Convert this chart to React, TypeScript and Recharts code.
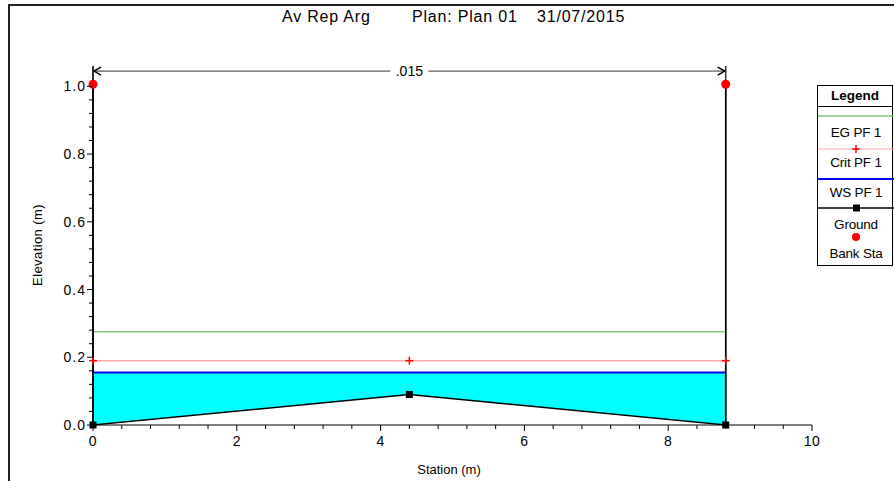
import React from 'react';
import { ComposedChart, Line, Area, Scatter, XAxis, YAxis, ReferenceLine, Legend } from 'recharts';

// ---- data ----
const stations = [0, 4.4, 8.8];
const groundAtStations = [0, 0.09, 0];
const groundX = [0, 0, 4.4, 8.8, 8.8];
const groundY = [1.0, 0, 0.09, 0, 1.0];
const wsElev = 0.155;
const critElev = 0.19;
const egElev = 0.275;
const bankStaX = [0, 8.8];
const bankStaY = [1.006, 1.006];
const manningN = '.015';
const nRange = [0, 8.8];
const nArrowElev = 1.045;

const xTicks = [0, 0.4, 0.8, 1.2, 1.6, 2, 2.4, 2.8, 3.2, 3.6, 4, 4.4, 4.8, 5.2, 5.6, 6, 6.4, 6.8, 7.2, 7.6, 8, 8.4, 8.8, 9.2, 9.6, 10];
const xMajor = [0, 2, 4, 6, 8, 10];
const xTickLabels = ['0', '2', '4', '6', '8', '10'];
const yTicks = [0, 0.04, 0.08, 0.12, 0.16, 0.2, 0.24, 0.28, 0.32, 0.36, 0.4, 0.44, 0.48, 0.52, 0.56, 0.6, 0.64, 0.68, 0.72, 0.76, 0.8, 0.84, 0.88, 0.92, 0.96, 1.0];
const yMajor = [0, 0.2, 0.4, 0.6, 0.8, 1.0];
const yTickLabels = ['0.0', '0.2', '0.4', '0.6', '0.8', '1.0'];

const titleParts = ['Av Rep Arg', 'Plan: Plan 01', '31/07/2015'];
const legendLabels = ['EG PF 1', 'Crit PF 1', 'WS PF 1', 'Ground', 'Bank Sta'];

// ---- derived tables ----
const waterData = stations.map((x, i) => ({ x, range: [groundAtStations[i], wsElev] }));
const wsData = stations.map((x) => ({ x, y: wsElev }));
const critData = stations.map((x) => ({ x, y: critElev }));
const egData = [{ x: stations[0], y: egElev }, { x: stations[stations.length - 1], y: egElev }];
const groundData = groundX.map((x, i) => ({ x, y: groundY[i] }));
const bankData = bankStaX.map((x, i) => ({ x, y: bankStaY[i] }));

const FONT = '"Liberation Sans", Arial, sans-serif';
const near = (a: number, b: number) => Math.abs(a - b) < 1e-6;

const EG_COLOR = '#80c880';
const CRIT_COLOR = '#ffa8a8';
const WS_COLOR = '#0000e0';

const XTick = (props: any) => {
  const { x, y, payload } = props;
  const idx = xMajor.findIndex((m) => near(m, payload.value));
  const major = idx >= 0;
  return (
    <g>
      <line x1={x} x2={x} y1={y} y2={y + (major ? 6 : 4)} stroke="#000" strokeWidth={1} />
      {major && (
        <text x={x} y={y + 21} textAnchor="middle" fontSize={14} letterSpacing={0.5} fontFamily={FONT} fill="#000">
          {xTickLabels[idx]}
        </text>
      )}
    </g>
  );
};

const YTick = (props: any) => {
  const { x, y, payload } = props;
  const idx = yMajor.findIndex((m) => near(m, payload.value));
  const major = idx >= 0;
  return (
    <g>
      <line x1={x - (major ? 6 : 4)} x2={x} y1={y} y2={y} stroke="#000" strokeWidth={1} />
      {major && (
        <text x={x - 7} y={y + 5} textAnchor="end" fontSize={14} letterSpacing={1} fontFamily={FONT} fill="#000">
          {yTickLabels[idx]}
        </text>
      )}
    </g>
  );
};

const PlusDot = (props: any) => {
  const { cx, cy, index } = props;
  if (cx == null || cy == null) return <g key={index} />;
  return (
    <g key={index}>
      <line x1={cx - 4} x2={cx + 4} y1={cy} y2={cy} stroke="#ff0000" strokeWidth={1.5} />
      <line x1={cx} x2={cx} y1={cy - 4} y2={cy + 4} stroke="#ff0000" strokeWidth={1.5} />
    </g>
  );
};

const SquareDot = (props: any) => {
  const { cx, cy, index, payload } = props;
  if (cx == null || cy == null || (payload && payload.y > 0.5)) return <g key={index} />;
  return <rect key={index} x={cx - 3.5} y={cy - 3.5} width={7} height={7} fill="#000" />;
};

const RedCircle = (props: any) => {
  const { cx, cy } = props;
  return <circle cx={cx} cy={cy} r={4.5} fill="#ff0000" />;
};

const NArrow = (props: any) => {
  const { x1, y1, x2 } = props;
  const xl = Math.min(x1, x2);
  const xr = Math.max(x1, x2);
  const mid = (xl + xr) / 2;
  const gap = 19;
  const y = y1;
  return (
    <g>
      <line x1={xl} x2={mid - gap} y1={y} y2={y} stroke="#333" strokeWidth={1} />
      <line x1={mid + gap} x2={xr} y1={y} y2={y} stroke="#333" strokeWidth={1} />
      <polyline points={`${xl + 8},${y - 4} ${xl + 1},${y} ${xl + 8},${y + 4}`} fill="none" stroke="#000" strokeWidth={1.5} />
      <polyline points={`${xr - 8},${y - 4} ${xr - 1},${y} ${xr - 8},${y + 4}`} fill="none" stroke="#000" strokeWidth={1.5} />
      <text x={mid} y={y + 5} textAnchor="middle" fontSize={14} fontFamily={FONT} fill="#000">{manningN}</text>
    </g>
  );
};

const LegendBox = () => {
  const txt = (label: string, cy: number) => (
    <div style={{ position: 'absolute', left: 0, width: 76, top: cy - 8, height: 16, lineHeight: '16px', fontSize: 13.5, fontFamily: FONT, color: '#000', textAlign: 'center', letterSpacing: '-0.2px', whiteSpace: 'pre' }}>
      {label}
    </div>
  );
  const sym = (cy: number, color: string, marker?: 'plus' | 'square' | 'circle', w = 1.2) => (
    <svg width={76} height={10} style={{ position: 'absolute', left: 0, top: cy - 5 }}>
      {marker !== 'circle' && <line x1={0} x2={76} y1={5} y2={5} stroke={color} strokeWidth={w} />}
      {marker === 'plus' && (
        <g>
          <line x1={34} x2={42} y1={5} y2={5} stroke="#ff0000" strokeWidth={1.5} />
          <line x1={38} x2={38} y1={1} y2={9} stroke="#ff0000" strokeWidth={1.5} />
        </g>
      )}
      {marker === 'square' && <rect x={35} y={1.5} width={7} height={7} fill="#000" />}
      {marker === 'circle' && <circle cx={38} cy={5} r={4} fill="#ff0000" />}
    </svg>
  );
  return (
    <div style={{ position: 'relative', width: 76, height: 181, border: '1px solid #000', background: '#fff', boxSizing: 'border-box' }}>
      <div style={{ position: 'absolute', left: 0, top: 0, width: 74, height: 20, lineHeight: '20px', textAlign: 'center', fontWeight: 'bold', fontSize: 13.5, fontFamily: FONT, color: '#000', borderBottom: '1px solid #000' }}>
        Legend
      </div>
      {sym(30, EG_COLOR, undefined, 1.5)}
      {txt(legendLabels[0], 47)}
      {sym(63, CRIT_COLOR, 'plus', 1.2)}
      {txt(legendLabels[1], 77)}
      {sym(93, '#0000ff', undefined, 2)}
      {txt(legendLabels[2], 107)}
      {sym(122, '#000000', 'square', 1.5)}
      {txt(legendLabels[3], 139)}
      {sym(151, '#ff0000', 'circle')}
      {txt(legendLabels[4], 168)}
    </div>
  );
};

export default function App() {
  const titleStyle = { position: 'absolute' as const, top: 8, fontSize: 16, letterSpacing: '0.8px', whiteSpace: 'pre' as const, color: '#000', lineHeight: '18px' };
  return (
    <div style={{ position: 'absolute', left: 0, top: 0, width: 894, height: 481, overflow: 'hidden', background: '#fff', fontFamily: FONT }}>
      <div style={{ position: 'absolute', left: 8, top: 4, width: 890, height: 480, borderTop: '2px solid #222', borderLeft: '2px solid #222', boxSizing: 'border-box' }} />
      <div style={{ ...titleStyle, left: 282 }}>{titleParts[0]}</div>
      <div style={{ ...titleStyle, left: 412 }}>{titleParts[1]}</div>
      <div style={{ ...titleStyle, left: 537 }}>{titleParts[2]}</div>
      <div style={{ position: 'absolute', left: 449, top: 462, fontSize: 13, transform: 'translateX(-50%)', whiteSpace: 'pre', color: '#000' }}>
        Station (m)
      </div>
      <div style={{ position: 'absolute', left: 37, top: 245, fontSize: 13, letterSpacing: '0.4px', transform: 'translate(-50%, -50%) rotate(-90deg)', whiteSpace: 'pre', color: '#000' }}>
        Elevation (m)
      </div>
      <div style={{ position: 'absolute', left: 0, top: 0 }}>
        <ComposedChart width={894} height={481} margin={{ top: 66, right: 82, bottom: 16, left: 0 }}>
          <XAxis
            type="number"
            dataKey="x"
            domain={[0, 10]}
            ticks={xTicks}
            interval={0}
            height={40}
            tickSize={0}
            tickMargin={0}
            tickLine={false}
            axisLine={{ stroke: '#000', strokeWidth: 1 }}
            tick={<XTick />}
          />
          <YAxis
            type="number"
            dataKey="y"
            domain={[0, 1.06]}
            ticks={yTicks}
            interval={0}
            width={93}
            tickSize={0}
            tickMargin={0}
            tickLine={false}
            axisLine={{ stroke: '#000', strokeWidth: 1 }}
            tick={<YTick />}
          />
          <Area data={waterData} dataKey="range" type="linear" fill="#00ffff" fillOpacity={1} stroke="none" isAnimationActive={false} />
          <Line data={egData} dataKey="y" type="linear" stroke={EG_COLOR} strokeWidth={1.5} dot={false} isAnimationActive={false} />
          <Line data={critData} dataKey="y" type="linear" stroke={CRIT_COLOR} strokeWidth={1.5} dot={<PlusDot />} isAnimationActive={false} />
          <Line data={wsData} dataKey="y" type="linear" stroke={WS_COLOR} strokeWidth={2} dot={false} isAnimationActive={false} />
          <ReferenceLine segment={[{ x: nRange[0], y: 0 }, { x: nRange[0], y: 1.06 }]} stroke="#333" strokeWidth={1.5} ifOverflow="visible" />
          <ReferenceLine segment={[{ x: nRange[1], y: 0 }, { x: nRange[1], y: 1.06 }]} stroke="#333" strokeWidth={1.5} ifOverflow="visible" />
          <Line data={groundData} dataKey="y" type="linear" stroke="#000" strokeWidth={1.5} dot={<SquareDot />} isAnimationActive={false} />
          <Scatter data={bankData} dataKey="y" fill="#ff0000" shape={<RedCircle />} isAnimationActive={false} />
          <ReferenceLine segment={[{ x: nRange[0], y: nArrowElev }, { x: nRange[1], y: nArrowElev }]} shape={<NArrow />} ifOverflow="visible" />
          <Legend
            layout="vertical"
            align="center"
            verticalAlign="middle"
            content={() => <LegendBox />}
            wrapperStyle={{ position: 'absolute', left: 817, top: 85, width: 76, height: 181 }}
          />
        </ComposedChart>
      </div>
    </div>
  );
}
